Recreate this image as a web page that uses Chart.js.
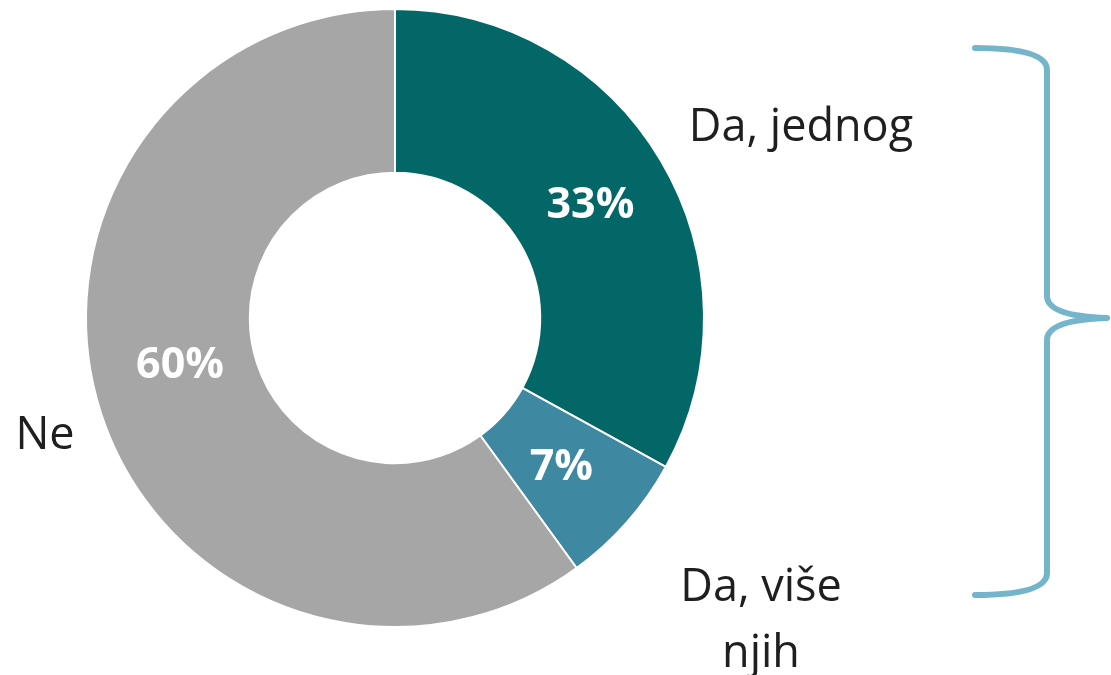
<!DOCTYPE html>
<html>
<head>
<meta charset="utf-8">
<script src="https://cdn.jsdelivr.net/npm/chart.js@4"></script>
<style>
  html, body { margin: 0; padding: 0; background: #fff; }
  #wrap { position: relative; width: 1111px; height: 675px; }
</style>
</head>
<body>
<div id="wrap"><canvas id="pieChart" width="1111" height="675"></canvas></div>
<script>
// values
const labels = ['Da, jednog', 'Da, više njih', 'Ne'];
const values = [33, 7, 60];
const colors = ['#026766', '#3F88A1', '#A6A6A6'];

// where each category name sits, relative to the doughnut centre
const namePos = [
  { lines: ['Da, jednog'], dx: 406, dy: -190 },
  { lines: ['Da, više', 'njih'], dx: 366, dy: 270 },
  { lines: ['Ne'], dx: -350, dy: 118 }
];
// nudge for the percent labels (60% sits a bit higher than the centroid)
const pctNudge = [[0, 3], [-4, 0], [1, -22]];

const labelPlugin = {
  id: 'labelPlugin',
  afterDatasetsDraw(chart) {
    const ctx = chart.ctx;
    const meta = chart.getDatasetMeta(0);
    ctx.save();
    ctx.textAlign = 'center';
    ctx.textBaseline = 'middle';
    meta.data.forEach((arc, i) => {
      const p = arc.tooltipPosition();
      ctx.fillStyle = '#fff';
      ctx.font = 'bold 43px "Open Sans"';
      ctx.fillText(values[i] + '%', p.x + pctNudge[i][0], p.y + pctNudge[i][1]);

      const n = namePos[i];
      ctx.fillStyle = '#1f1f1f';
      ctx.font = '45px "Open Sans"';
      n.lines.forEach((line, k) => {
        ctx.fillText(line, arc.x + n.dx, arc.y + n.dy + k * 66);
      });
    });

    // the brace on the right
    ctx.strokeStyle = '#74B5CB';
    ctx.lineWidth = 6;
    ctx.lineCap = 'round';
    ctx.lineJoin = 'round';
    const cx = meta.data[0].x, cy = meta.data[0].y;
    const xl = cx + 580, xv = cx + 652, xt = cx + 712;
    const yt = cy - 270, yb = cy + 277;
    ctx.beginPath();
    ctx.moveTo(xl, yt);
    ctx.quadraticCurveTo(xv, yt, xv, yt + 22);
    ctx.lineTo(xv, cy - 22);
    ctx.quadraticCurveTo(xv, cy - 2, xt, cy);
    ctx.quadraticCurveTo(xv, cy + 2, xv, cy + 22);
    ctx.lineTo(xv, yb - 22);
    ctx.quadraticCurveTo(xv, yb, xl, yb);
    ctx.stroke();
    ctx.restore();
  }
};

new Chart(document.getElementById('pieChart'), {
  type: 'doughnut',
  data: {
    labels: labels,
    datasets: [{
      data: values,
      backgroundColor: colors,
      borderColor: '#ffffff',
      borderWidth: 2
    }]
  },
  options: {
    responsive: false,
    animation: false,
    cutout: '47%',
    layout: { padding: { left: 85, top: 7, right: 406, bottom: 46 } },
    plugins: {
      legend: { display: false },
      tooltip: { enabled: false }
    }
  },
  plugins: [labelPlugin]
});
</script>
</body>
</html>
